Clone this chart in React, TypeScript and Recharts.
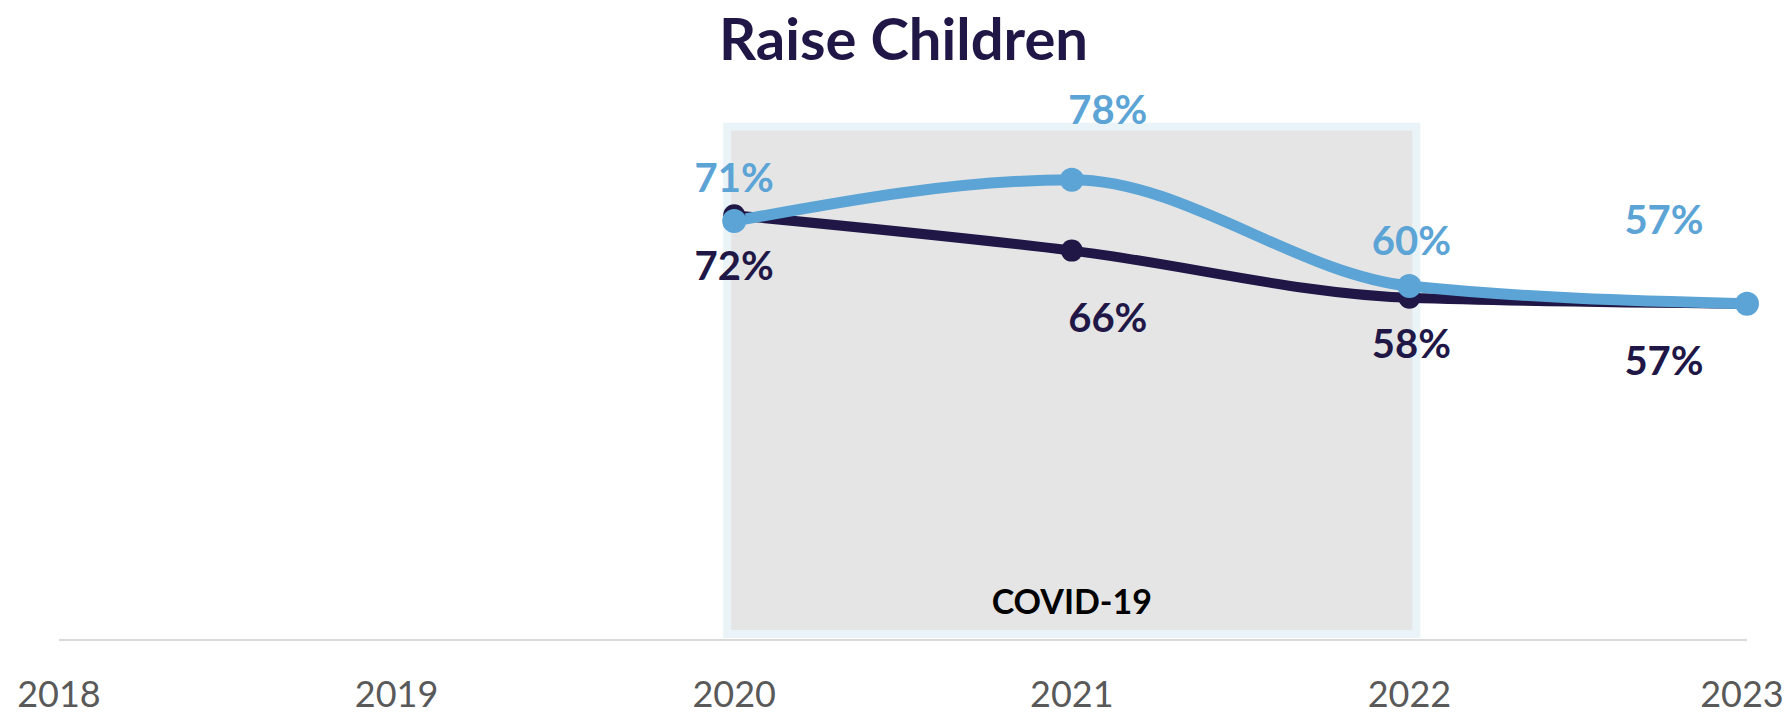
import { LineChart, Line, XAxis, YAxis, ReferenceArea } from 'recharts';

const years = ['2018', '2019', '2020', '2021', '2022', '2023'];
const darkValues = [null, null, 72, 66, 58, 57];
const lightValues = [null, null, 71, 78, 60, 57];

// hand-placed label nudges (px from the point), same order as years
const darkNudge = [[0, 0], [0, 0], [0, 51], [36, 67], [2, 46], [-83, 57]];
const lightNudge = [[0, 0], [0, 0], [0, -43], [36, -70], [2, -45], [-83, -84]];

const DARK = '#201747';
const LIGHT = '#5BA4D5';

const rows = years.map((year, i) => ({ year, dark: darkValues[i], light: lightValues[i] }));

function makeDot(color: string, r: number, nudge: number[][]) {
    return (props: any) => {
        const { cx, cy, index, value } = props;
        if (value == null || cy == null || isNaN(cy)) return <g key={`d-${index}`} />;
        const [dx, dy] = nudge[index];
        return (
            <g key={`d-${index}`}>
                <circle cx={cx} cy={cy} r={r} fill={color} />
                <text x={cx + dx} y={cy + dy} dy="0.35em" textAnchor="middle" fill={color} fontSize={40} fontWeight={700}>
                    {`${value}%`}
                </text>
            </g>
        );
    };
}

// covid box, drawn a little wider than the 2020–2022 span like the original
const CovidBox = (props: any) => {
    const { x, y, width, height } = props;
    return (
        <rect x={x - 7} y={y} width={width + 14} height={height} fill="#E5E5E5" stroke="#EAF4F8" strokeWidth={8} />
    );
};

// year ticks; the last one is pulled in a hair so it is not clipped at the edge
const YearTick = (props: any) => {
    const { x, y, payload, index } = props;
    const shift = index === years.length - 1 ? -5 : 0;
    return (
        <text x={x + shift} y={y} dy="0.71em" textAnchor="middle" fill="#595959" fontSize={36}>
            {payload.value}
        </text>
    );
};

export default function App() {
    return (
        <div style={{ position: 'absolute', left: 0, top: 0, width: 1787, height: 716, background: '#fff', fontFamily: 'Lato, sans-serif' }}>
            <div
                style={{
                    position: 'absolute',
                    top: 9,
                    left: 10,
                    width: 1787,
                    textAlign: 'center',
                    fontSize: 58,
                    lineHeight: 1,
                    fontWeight: 700,
                    color: DARK,
                }}
            >
                Raise Children
            </div>
            <LineChart width={1787} height={716} data={rows} margin={{ top: 50, right: 40, left: 59, bottom: 36 }}>
                <ReferenceArea
                    x1="2020"
                    x2="2022"
                    y1={1}
                    y2={87}
                    shape={CovidBox}
                    ifOverflow="visible"
                    label={{ value: 'COVID-19', position: 'insideBottom', offset: 20, fill: '#000', fontSize: 34, fontWeight: 700 }}
                />
                <XAxis
                    dataKey="year"
                    height={40}
                    interval={0}
                    axisLine={{ stroke: '#D9D9D9', strokeWidth: 2 }}
                    tickLine={false}
                    tickMargin={35}
                    tick={YearTick}
                />
                <YAxis hide domain={[0, 100]} />
                <Line
                    type="monotone"
                    dataKey="dark"
                    stroke={DARK}
                    strokeWidth={10}
                    dot={makeDot(DARK, 11, darkNudge)}
                    activeDot={false}
                    isAnimationActive={false}
                />
                <Line
                    type="monotone"
                    dataKey="light"
                    stroke={LIGHT}
                    strokeWidth={11}
                    dot={makeDot(LIGHT, 12, lightNudge)}
                    activeDot={false}
                    isAnimationActive={false}
                />
            </LineChart>
        </div>
    );
}
